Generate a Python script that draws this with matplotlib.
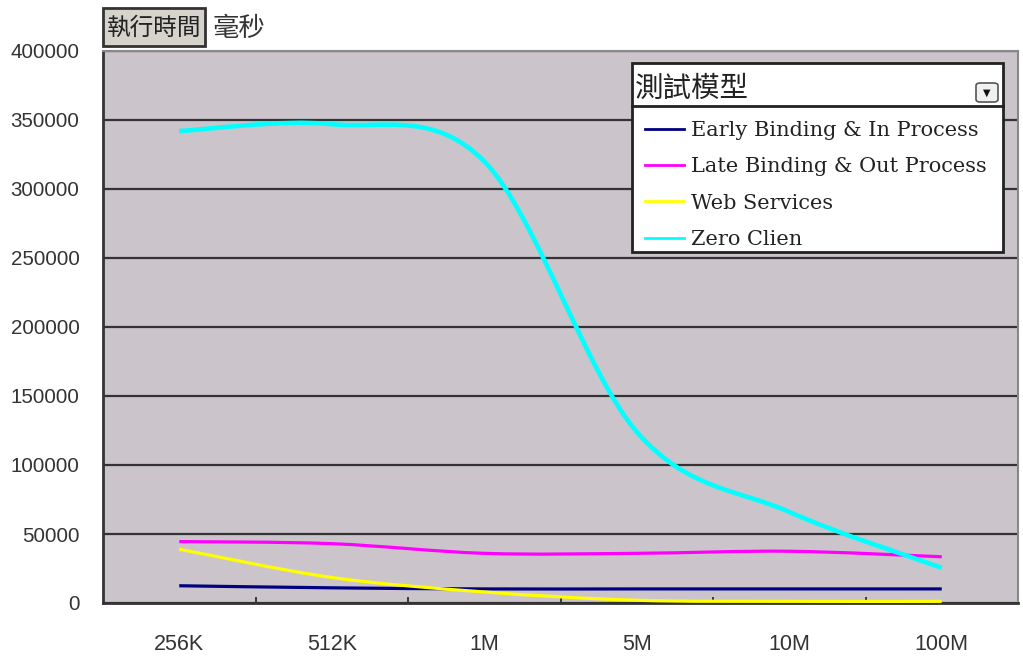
import matplotlib
matplotlib.use("Agg")
import matplotlib.pyplot as plt
from matplotlib.path import Path
from matplotlib.patches import PathPatch, Rectangle, FancyBboxPatch
from matplotlib.lines import Line2D
import numpy as np

categories = ["256K", "512K", "1M", "5M", "10M", "100M"]
series_names = ["Early Binding & In Process", "Late Binding & Out Process",
                "Web Services", "Zero Clien"]
early_binding = [12500, 11000, 10200, 10200, 10200, 10200]
late_binding = [44500, 43000, 36000, 36000, 37500, 33500]
web_services = [39000, 18500, 8000, 2000, 1200, 1200]
zero_client = [342000, 347000, 320000, 124000, 66000, 25500]
y_ticks = [0, 50000, 100000, 150000, 200000, 250000, 300000, 350000, 400000]

colors = ["#000080", "#FF00FF", "#FFFF00", "#00FFFF"]
widths = [2.3, 2.3, 2.3, 3.3]

W, H = 1023, 659
fig = plt.figure(figsize=(W / 100, H / 100), dpi=100)
fig.patch.set_facecolor("white")


def fx(px):
    return px / W


def fy(py):
    return 1 - py / H


ax = fig.add_axes([fx(103), fy(603), fx(1018) - fx(103), fy(51) - fy(603)])
ax.set_facecolor("#CBC5CB")


def smooth_path(xs, ys):
    xs = np.asarray(xs, float)
    ys = np.asarray(ys, float)
    n = len(xs)
    verts = [(xs[0], ys[0])]
    codes = [Path.MOVETO]
    for i in range(n - 1):
        p0 = np.array([xs[max(i - 1, 0)], ys[max(i - 1, 0)]])
        p1 = np.array([xs[i], ys[i]])
        p2 = np.array([xs[i + 1], ys[i + 1]])
        p3 = np.array([xs[min(i + 2, n - 1)], ys[min(i + 2, n - 1)]])
        c1 = p1 + (p2 - p0) / 6.0
        c2 = p2 - (p3 - p1) / 6.0
        verts += [tuple(c1), tuple(c2), tuple(p2)]
        codes += [Path.CURVE4, Path.CURVE4, Path.CURVE4]
    return Path(verts, codes)


x = np.arange(len(categories))
all_series = [early_binding, late_binding, web_services, zero_client]
handles = []
for vals, c, lw, name in zip(all_series, colors, widths, series_names):
    patch = PathPatch(smooth_path(x, vals), facecolor="none", edgecolor=c,
                      lw=lw, zorder=3, capstyle="butt")
    ax.add_patch(patch)
    handles.append(Line2D([], [], color=c, lw=2.0, label=name))

ax.set_xlim(-0.5, len(categories) - 0.5)
ax.set_ylim(0, 400000)
ax.set_yticks(y_ticks)
ax.set_yticklabels([str(v) for v in y_ticks])
ax.set_xticks(x)
ax.set_xticklabels(categories)
ax.set_xticks(x[:-1] + 0.5, minor=True)
ax.grid(axis="y", color="#333333", lw=1.6, zorder=1)
ax.set_axisbelow(True)

ax.tick_params(axis="y", length=0, pad=17, labelsize=14.8, labelcolor="#333333")
ax.tick_params(axis="x", which="major", length=0, pad=22, labelsize=15.5,
               labelcolor="#333333")
ax.tick_params(axis="x", which="minor", direction="in", length=4.5, width=1.2,
               color="#222222")
for lab in ax.get_yticklabels():
    lab.set_fontfamily("Liberation Sans")
for lab in ax.get_xticklabels():
    lab.set_fontfamily("Liberation Sans")

ax.spines["left"].set_color("#333333")
ax.spines["left"].set_linewidth(2)
ax.spines["bottom"].set_color("#333333")
ax.spines["bottom"].set_linewidth(2)
ax.spines["top"].set_color("#888888")
ax.spines["top"].set_linewidth(1.5)
ax.spines["right"].set_color("#888888")
ax.spines["right"].set_linewidth(1.5)

# Legend box
cjk = ["Noto Sans CJK TC", "DejaVu Sans"]
fig.patches.append(Rectangle((fx(632), fy(252)), fx(1003) - fx(632), fy(63) - fy(252),
                             transform=fig.transFigure, facecolor="white",
                             edgecolor="#222222", lw=2, zorder=5))
fig.lines.append(Line2D([fx(632), fx(1003)], [fy(106), fy(106)],
                        transform=fig.transFigure, color="#222222", lw=2, zorder=6))
fig.text(fx(635), fy(88.5), "測試模型", family=cjk, fontsize=20.5, color="#222222",
         va="center", ha="left", zorder=7)
fig.patches.append(FancyBboxPatch((fx(976), fy(102)), fx(998) - fx(976), fy(83) - fy(102),
                                  boxstyle="round,pad=0,rounding_size=0.004",
                                  transform=fig.transFigure, facecolor="#F0F0F0",
                                  edgecolor="#555555", lw=1.2, zorder=7))
fig.text(fx(987), fy(93), "▼", family="DejaVu Sans", fontsize=7, color="#111111",
         ha="center", va="center", zorder=8)

leg = fig.legend(handles=handles, loc="upper left",
                 bbox_to_anchor=(fx(645), fy(121)), bbox_transform=fig.transFigure,
                 frameon=False, borderpad=0, borderaxespad=0, handlelength=1.85,
                 handletextpad=0.34, labelspacing=0.83,
                 prop={"family": "DejaVu Serif", "size": 15})
leg.set_zorder(9)
for t in leg.get_texts():
    t.set_color("#222222")

# Top-left units box
fig.patches.append(Rectangle((fx(103), fy(46)), fx(205) - fx(103), fy(8) - fy(46),
                             transform=fig.transFigure, facecolor="#D6D2CC",
                             edgecolor="#333333", lw=2))
fig.text(fx(154), fy(28), "執行時間", family=cjk, fontsize=17, color="#222222",
         ha="center", va="center")
fig.text(fx(213), fy(28), "毫秒", family=cjk, fontsize=19, color="#333333",
         ha="left", va="center")

fig.savefig("out.png", dpi=100, facecolor="white")
